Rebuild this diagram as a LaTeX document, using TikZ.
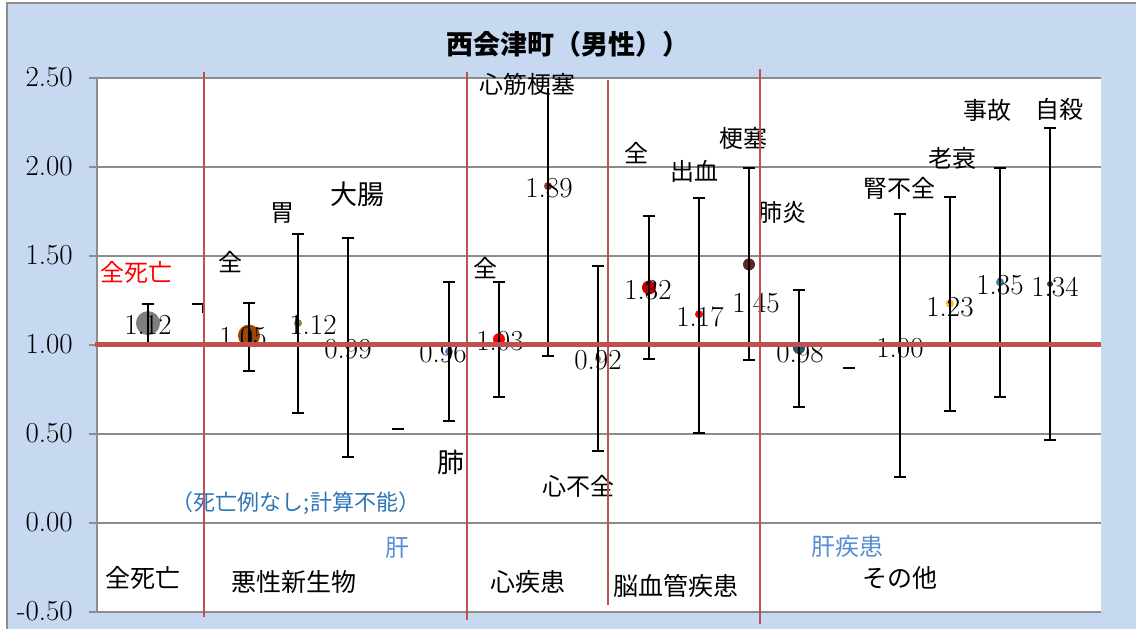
\documentclass[tikz,border=0pt]{standalone}
\usepackage{fontspec}
\newfontfamily\jp{Noto Sans CJK JP}
\definecolor{bgblue}{HTML}{C6D9F1}
\definecolor{gridgray}{HTML}{8C8C8C}
\definecolor{redline}{HTML}{C0504D}
\definecolor{bluetxt}{HTML}{2E75B6}
\definecolor{bluetxtb}{HTML}{558ED5}
\definecolor{dotgray}{HTML}{7F7F7F}
\definecolor{dotbrown}{HTML}{984807}
\definecolor{dotolive}{HTML}{77933C}
\definecolor{dotorange}{HTML}{F79646}
\definecolor{dotblue}{HTML}{4F81BD}
\definecolor{dotred}{HTML}{FF0000}
\definecolor{dotdred}{HTML}{953735}
\definecolor{dottan}{HTML}{948A54}
\definecolor{dotdkred}{HTML}{C00000}
\definecolor{dotbrownb}{HTML}{632523}
\definecolor{dotteal}{HTML}{215968}
\definecolor{dotolivb}{HTML}{4F6228}
\definecolor{dotyellow}{HTML}{FFC000}
\definecolor{dottealb}{HTML}{31859C}
\definecolor{dotpurple}{HTML}{403152}
\tikzset{
  gridln/.style={draw=gridgray, line width=2pt},
  ebar/.style={draw=black, line width=1.8pt},
  redv/.style={draw=redline, line width=2pt},
  num/.style={font=\fontsize{29}{31}\selectfont, inner sep=0pt},
  ylab/.style={font=\fontsize{29}{31}\selectfont, anchor=east, inner sep=0pt},
  jlab/.style={font=\jp\fontsize{24}{26}\selectfont, inner sep=0pt},
  catlab/.style={font=\jp\fontsize{25}{27}\selectfont, inner sep=0pt},
}
\begin{document}
\begin{tikzpicture}[x=1pt,y=-1pt]
\useasboundingbox (0,0) rectangle (1136,629);
% background
\fill[bgblue] (0,0) rectangle (1136,629);
\fill[white] (0,0) rectangle (1136,2);
\fill[white] (0,0) rectangle (6,629);
\draw[gridgray, line width=1.5pt] (7,629) -- (7,3) -- (1136,3);
\fill[white] (97,77) rectangle (1101,612);
% title
\node[font=\jp\bfseries\fontsize{27}{29}\selectfont, inner sep=0pt] (title) at (568,44) {西会津町（男性））};
% grid and axis
\foreach \v/\t/\yy in {2.5/2.50/77.5, 2.0/2.00/166.5, 1.5/1.50/255.5, 1.0/1.00/344.5, 0.5/0.50/433.5, 0.0/0.00/522.5, -0.5/-0.50/611.5}{
  \draw[gridln] (89,\yy) -- (1101,\yy);
  \node[ylab] (y\t) at (73,\yy) {\t};
}
\draw[gridln] (97,77) -- (97,612);
% data in value coordinates
\begin{scope}[shift={(0,522.5)}, y=178pt]
  % dots
  \foreach \x/\v/\c/\r in {148/1.12/dotgray/12, 249/1.05/dotbrown/11, 298/1.12/dotolive/4,
     348/0.99/dotorange/3, 449/0.96/dotblue/4, 499/1.03/dotred/6, 548/1.89/dotdred/4,
     598/0.92/dottan/3, 649/1.32/dotdkred/7, 699/1.17/dotred/4, 749/1.45/dotbrownb/6,
     799/0.98/dotteal/6, 900/1.00/dotolivb/2, 950/1.23/dotyellow/4, 1000/1.35/dottealb/4,
     1050/1.34/dotpurple/3}{
    \fill[\c] (\x,\v) circle[radius=\r pt];
  }
  % error bars
  \foreach \x/\lo/\hi in {148/0.997/1.228, 249/0.851/1.233, 298/0.615/1.62, 348/0.368/1.60,
     449/0.57/1.35, 499/0.705/1.35, 598/0.40/1.44, 649/0.918/1.72, 699/0.503/1.823,
     749/0.913/1.99, 799/0.649/1.306, 900/0.256/1.733, 950/0.626/1.829, 1000/0.705/1.99,
     1050/0.463/2.216}{
    \draw[ebar] (\x-6,\hi) -- (\x+6,\hi) (\x,\hi) -- (\x,\lo) (\x-6,\lo) -- (\x+6,\lo);
  }
  \draw[ebar] (548,2.44) -- (548,0.935) (542,0.935) -- (554,0.935);
  % partial bar and dashes
  \draw[ebar] (192,1.228) -- (204,1.228) (203,1.228) -- (203,1.175);
  \draw[ebar] (392,0.525) -- (404,0.525);
  \draw[ebar] (843,0.868) -- (855,0.868);
\end{scope}
% numeric labels
\node[num] (n1) at (148,325) {1.12};
\node[num] (n2) at (243,337) {1.05};
\node[num] (n3) at (313,325) {1.12};
\node[num] (n4) at (348,349) {0.99};
\node[num] (n5) at (443,353) {0.96};
\node[num] (n6) at (500,341) {1.03};
\node[num] (n7) at (549,188) {1.89};
\node[num] (n8) at (598,360) {0.92};
\node[num] (n9) at (648,290) {1.32};
\node[num] (n10) at (700,317) {1.17};
\node[num] (n11) at (756,303) {1.45};
\node[num] (n12) at (800,353) {0.98};
\node[num] (n13) at (900,348) {1.00};
\node[num] (n14) at (950,307) {1.23};
\node[num] (n15) at (1000,285) {1.35};
\node[num] (n16) at (1055,287) {1.34};
% name labels
\node[jlab, text=red] (lall) at (136,272) {全死亡};
\node[jlab] (l1) at (230,262) {全};
\node[jlab] (l2) at (282,213) {胃};
\node[jlab, font=\jp\fontsize{27}{29}\selectfont] (l3) at (357,194) {大腸};
\node[jlab, font=\jp\fontsize{27}{29}\selectfont] (l4) at (451,462) {肺};
\node[jlab] (l5) at (485,268) {全};
\node[jlab] (l6) at (527,84) {心筋梗塞};
\node[jlab] (l7) at (578,486) {心不全};
\node[jlab] (l8) at (636,153) {全};
\node[jlab] (l9) at (694,171) {出血};
\node[jlab] (l10) at (743,138) {梗塞};
\node[jlab] (l11) at (782,212) {肺炎};
\node[jlab] (l12) at (899,188) {腎不全};
\node[jlab] (l13) at (952,158) {老衰};
\node[jlab] (l14) at (987,110) {事故};
\node[jlab] (l15) at (1059,109) {自殺};
\node[jlab, text=bluetxt, font=\jp\fontsize{22}{24}\selectfont] (note) at (296,503) {（死亡例なし;計算不能）};
\node[jlab, text=bluetxtb] (lliver) at (397,548) {肝};
\node[jlab, text=bluetxtb] (lliverd) at (847,546) {肝疾患};
% category labels
\node[catlab] (c1) at (143,578) {全死亡};
\node[catlab] (c2) at (294,582) {悪性新生物};
\node[catlab] (c3) at (528,582) {心疾患};
\node[catlab] (c4) at (676,586) {脳血管疾患};
\node[catlab] (c5) at (900,578) {その他};
% red lines
\draw[redline, line width=5pt] (95,344.5) -- (1101,344.5);
\draw[redv] (204,72) -- (204,617);
\draw[redv] (467,72) -- (467,620);
\draw[redv] (608,80) -- (608,605);
\draw[redv] (760,69) -- (760,624);
\end{tikzpicture}
\end{document}
